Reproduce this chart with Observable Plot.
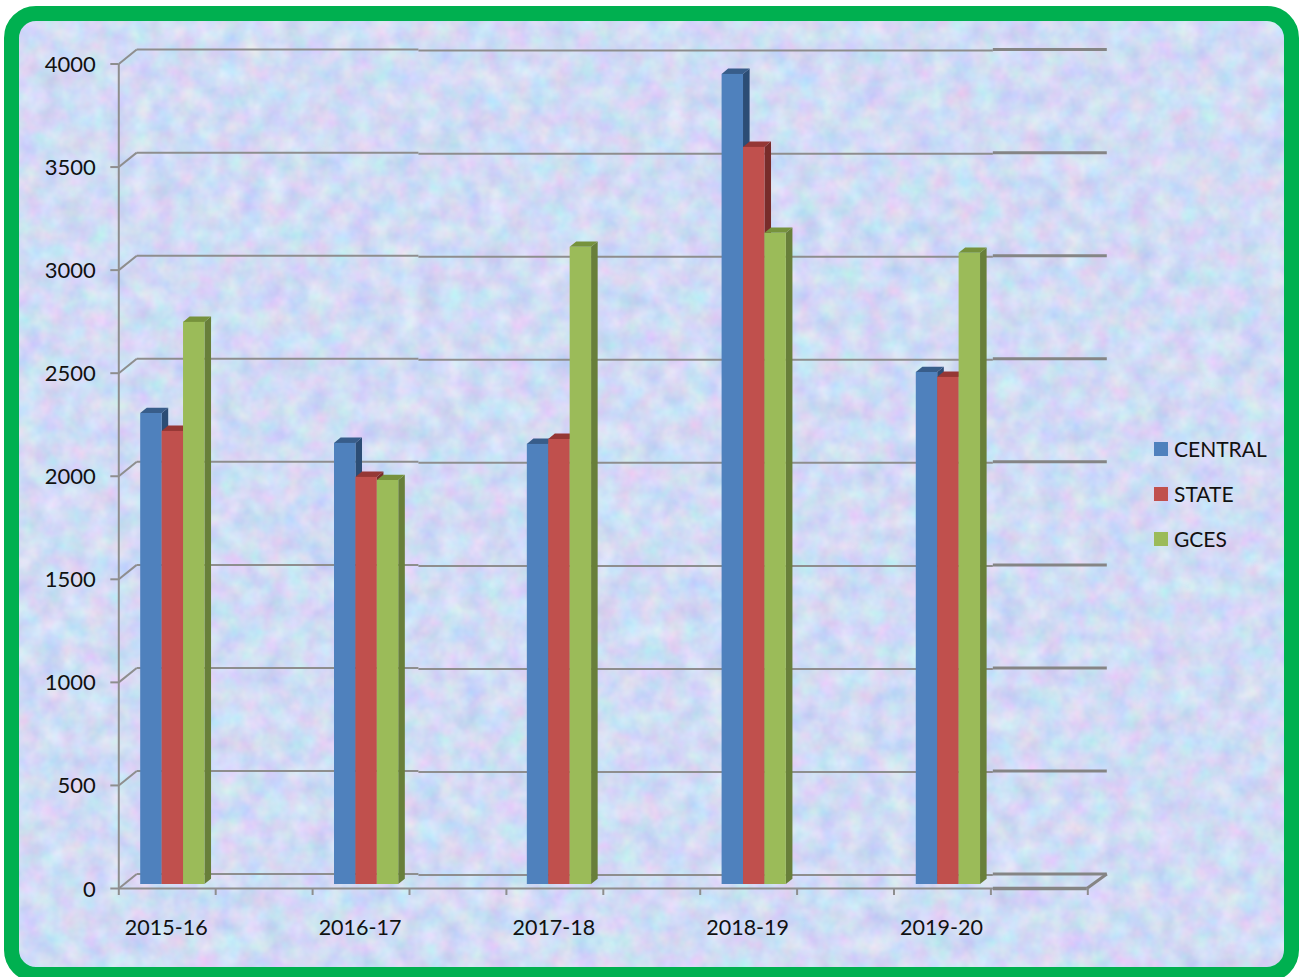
<!DOCTYPE html>
<html>
<head>
<meta charset="utf-8">
<script src="https://cdn.jsdelivr.net/npm/d3@7"></script>
<script src="https://cdn.jsdelivr.net/npm/@observablehq/plot@0.6"></script>
<style>
html,body{margin:0;padding:0;background:#fff;overflow:hidden}
#page{position:relative;width:1306px;height:977px;overflow:hidden;font-family:Lato,sans-serif}
#frame{position:absolute;left:4px;top:6px;width:1295px;height:976px;box-sizing:border-box;border:15px solid #00b050;border-radius:32px;overflow:hidden;background-color:#cfdcf6;
background-image:url("data:image/svg+xml;utf8,<svg xmlns='http://www.w3.org/2000/svg' width='1306' height='977'><filter id='n' x='0' y='0' width='100%' height='100%' color-interpolation-filters='sRGB'><feTurbulence type='fractalNoise' baseFrequency='0.045' numOctaves='3' seed='7'/><feColorMatrix values='0.26 0 0 0 0.69  0 0.2 0 0 0.76  0 0 0.1 0 0.91  0 0 0 0 1'/></filter><rect width='1306' height='977' filter='url(%23n)'/></svg>")}
#chart{position:absolute;left:0;top:0}
#legend{position:absolute;left:1154px;top:0}
#legend div{position:absolute;left:20px;white-space:nowrap;font-size:21px;line-height:24px;color:#111}
#legend i{position:absolute;left:-20px;top:5px;width:14px;height:14px}
</style>
</head>
<body>
<div id="page"><div id="frame"></div><div id="chart"></div><div id="legend"></div></div>
<script>
const categories = ["2015-16","2016-17","2017-18","2018-19","2019-20"];
const seriesNames = ["CENTRAL","STATE","GCES"];
const central = [2285,2140,2135,3930,2484];
const state   = [2198,1975,2159,3576,2460];
const gces    = [2727,1960,3091,3159,3062];
const seriesValues = [central,state,gces];
const frontColors = ["#4f81bd","#c0504d","#9bbb59"];
const sideColors  = ["#2c4d75","#772c2a","#687f3a"];
const topColors   = ["#385d8a","#953735","#76923c"];
const yTicks = [0,500,1000,1500,2000,2500,3000,3500,4000];
const xTicks = d3.range(0,5.01,0.5);

// geometry of the fake 3D, in scale units
const barStart = [0.113,0.113,0.108,0.113,0.115];
const barW = 0.1105, depthX = 0.034, depthY = 26;
const wallX = 0.0925, wallY = 70;
const seamA = 1.546, seamB = 4.51, backEnd = 5.098;
const grey = "#8e8e8e";

const rows = seriesNames.map((name,s)=>categories.map((c,i)=>{
  const x1 = i + barStart[i] + s*barW;
  return {key:c+name, x1, x2:x1+barW, v:seriesValues[s][i]};
}));
const sides = r => r.flatMap(d=>[
  {key:d.key,x:d.x2,y1:0,y2:d.v},
  {key:d.key,x:d.x2+depthX,y1:depthY,y2:d.v+depthY}]);
const tops = r => r.flatMap(d=>[
  {key:d.key,x:d.x1,y1:d.v,y2:d.v},
  {key:d.key,x:d.x1+depthX,y1:d.v,y2:d.v+depthY},
  {key:d.key,x:d.x2,y1:d.v,y2:d.v+depthY},
  {key:d.key,x:d.x2+depthX,y1:d.v+depthY,y2:d.v+depthY}]);

const barMarks = rows.flatMap((r,s)=>[
  Plot.areaY(sides(r),{x:"x",y1:"y1",y2:"y2",z:"key",fill:sideColors[s],dy:-4}),
  Plot.areaY(tops(r),{x:"x",y1:"y1",y2:"y2",z:"key",fill:topColors[s],dy:-4}),
  Plot.rect(r,{x1:"x1",x2:"x2",y1:()=>0,y2:"v",fill:frontColors[s],dy:-4})
]);

const seg = (a,b,opts)=>Plot.link(yTicks,{x1:()=>a,x2:()=>b,y1:d=>d+wallY,y2:d=>d+wallY,stroke:grey,strokeWidth:2,...opts});

const chart = Plot.plot({
  width:1306,height:977,
  marginLeft:118.3,marginRight:218.7,marginTop:63.5,marginBottom:89,
  style:{background:"transparent",fontFamily:"Lato,sans-serif"},
  x:{domain:[0,5]},
  y:{domain:[0,4000]},
  marks:[
    // back wall gridlines
    Plot.link(yTicks,{x1:()=>0,x2:()=>wallX,y1:d=>d,y2:d=>d+wallY,stroke:grey,strokeWidth:2}),
    seg(wallX,seamA,{}),
    seg(seamA,seamB,{dy:1}),
    seg(seamB,backEnd,{strokeWidth:3,stroke:"#858585"}),
    // floor edges
    Plot.link([0],{x1:()=>0,x2:()=>seamB,y1:()=>0,y2:()=>0,stroke:grey,strokeWidth:2}),
    Plot.link([0],{x1:()=>seamB,x2:()=>4.995,y1:()=>0,y2:()=>0,stroke:"#858585",strokeWidth:3.5}),
    Plot.link([0],{x1:()=>4.995,x2:()=>backEnd,y1:()=>0,y2:()=>wallY,stroke:"#858585",strokeWidth:3}),
    // front y axis line
    Plot.ruleX([0],{y1:0,y2:4000,stroke:grey,strokeWidth:2}),
    // axes
    Plot.axisY({ticks:yTicks,tickSize:8,stroke:grey,strokeWidth:2,tickFormat:()=>"",label:null}),
    Plot.axisY({ticks:yTicks,tickSize:0,tickPadding:23,dy:1,fill:"#111",fontSize:22,label:null,tickFormat:d=>String(d)}),
    Plot.axisX({ticks:xTicks,tickSize:7,stroke:grey,strokeWidth:2,tickFormat:()=>"",label:null}),
    Plot.axisX({ticks:categories.map((c,i)=>i+0.25),tickSize:0,tickPadding:31,dx:-1,fill:"#111",fontSize:21.5,label:null,
      tickFormat:d=>categories[Math.round(d-0.25)]}),
    ...barMarks
  ]
});
document.getElementById("chart").append(chart);

const legend = document.getElementById("legend");
seriesNames.forEach((n,i)=>{
  const row = document.createElement("div");
  row.style.top = (437+i*45)+"px";
  row.innerHTML = '<i style="background:'+frontColors[i]+'"></i>'+n;
  legend.append(row);
});
</script>
</body>
</html>
